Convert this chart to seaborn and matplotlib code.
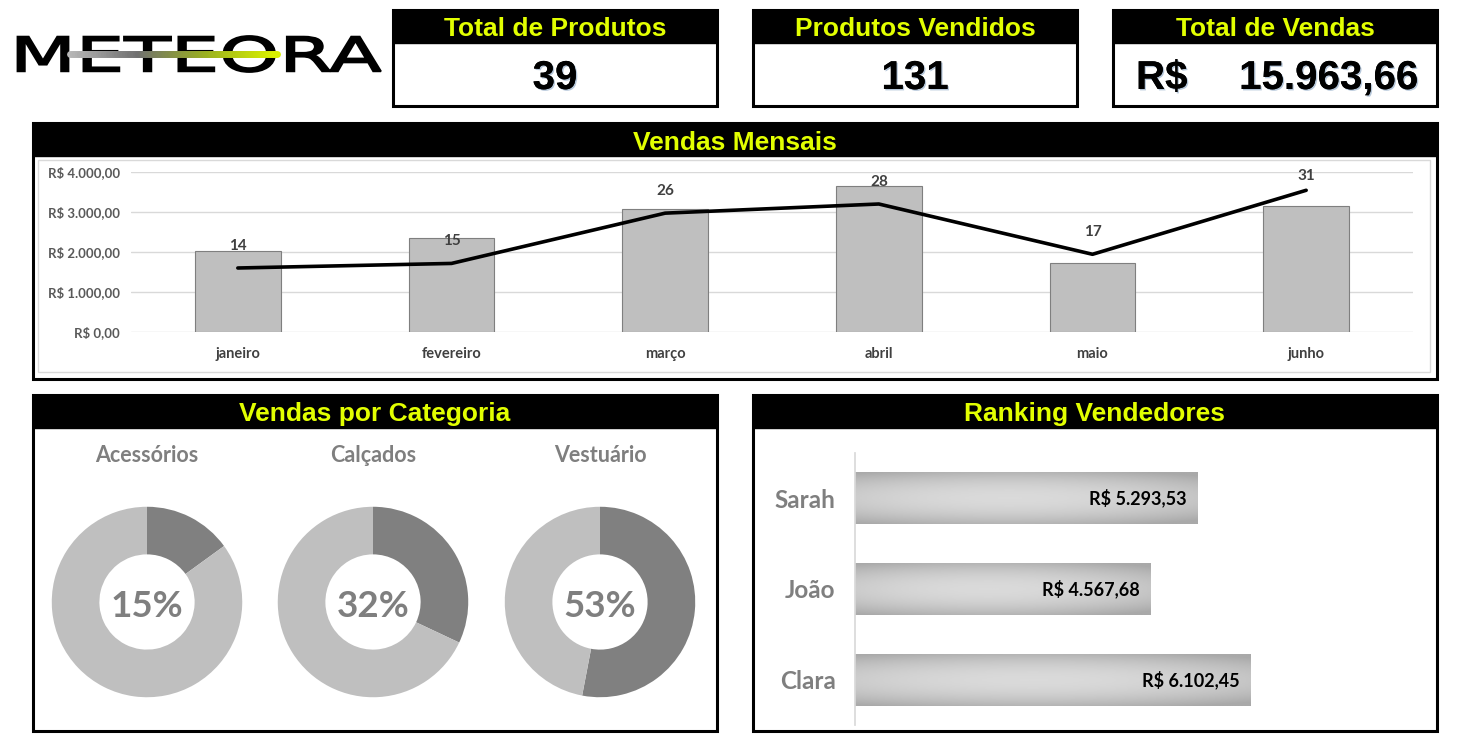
import numpy as np
import seaborn as sns
import matplotlib.pyplot as plt
from matplotlib.patches import Rectangle, PathPatch
from matplotlib.path import Path
from matplotlib.textpath import TextPath
from matplotlib.font_manager import FontProperties
from matplotlib.collections import LineCollection
from matplotlib.colors import LinearSegmentedColormap
import matplotlib.patheffects as pe

## Dados do painel

meses = ["janeiro", "fevereiro", "março", "abril", "maio", "junho"]
vendas_mes = [2025, 2350, 3075, 3650, 1725, 3140]
qtd_mes = [14, 15, 26, 28, 17, 31]

categorias = ["Acessórios", "Calçados", "Vestuário"]
pct_categoria = [15, 32, 53]

vendedores = ["Sarah", "João", "Clara"]
vendas_vendedor = [5293.53, 4567.68, 6102.45]

kpi_titulos = ["Total de Produtos", "Produtos Vendidos", "Total de Vendas"]
kpi_valores = ["39", "131", "15.963,66"]

AMARELO = "#E2FF00"
CINZA_TXT = "#7f7f7f"
W, H = 1457, 751


def brl(v):
    s = f"{v:,.2f}".replace(",", "X").replace(".", ",").replace("X", ".")
    return "R$ " + s


sns.set_theme(style="white")
plt.rcParams["font.family"] = ["Lato", "DejaVu Sans"]

fig = plt.figure(figsize=(W / 100, H / 100), dpi=100)
fig.patch.set_facecolor("white")

# eixo de fundo em pixels para molduras e textos
bg = fig.add_axes([0, 0, 1, 1])
bg.set_xlim(0, W)
bg.set_ylim(H, 0)
bg.axis("off")


def px_axes(x, y, w, h):
    a = fig.add_axes([x / W, 1 - (y + h) / H, w / W, h / H])
    a.set_facecolor("none")
    return a


def painel(x, y, w, h, titulo, hh=33):
    bg.add_patch(Rectangle((x, y), w, hh, color="black"))
    bg.add_patch(Rectangle((x, y), w, h, fill=False, ec="black", lw=2.2))
    bg.text(x + w / 2, y + hh / 2 + 3, titulo, ha="center", va="center",
            color=AMARELO, fontsize=19, fontweight="bold", family="Liberation Sans")


## Logo
fp = FontProperties(family="DejaVu Sans", weight="normal")
tp = TextPath((0, 0), "METEORA", prop=fp)
v = tp.vertices.copy()
x0, y0 = v.min(axis=0)
x1, y1 = v.max(axis=0)
v[:, 0] = 10 + (v[:, 0] - x0) / (x1 - x0) * 371
v[:, 1] = 72 - (v[:, 1] - y0) / (y1 - y0) * 36
bg.add_patch(PathPatch(Path(v, tp.codes), color="black", lw=1.3))
xs = np.linspace(70, 277, 80)
segs = [[(xs[i], 54), (xs[i + 1], 54)] for i in range(len(xs) - 1)]
cmap_logo = LinearSegmentedColormap.from_list("logo", ["#b8b8b8", "#707070", "#9ab020", "#d8f000"])
lc = LineCollection(segs, colors=cmap_logo(np.linspace(0, 1, len(segs))), linewidths=5, capstyle="round")
bg.add_collection(lc)

## KPIs
sombra = [pe.withSimplePatchShadow(offset=(1, -1), shadow_rgbFace="#6d8fb5", alpha=0.5), pe.Normal()]
kpi_x = [393, 753, 1113]
for xk, t in zip(kpi_x, kpi_titulos):
    painel(xk, 10, 324, 96, t)
estilo_kpi = dict(va="center", fontsize=29, fontweight="bold", family="Liberation Sans",
                  color="black", path_effects=sombra)
bg.text(555, 78, kpi_valores[0], ha="center", **estilo_kpi)
bg.text(915, 78, kpi_valores[1], ha="center", **estilo_kpi)
bg.text(1136, 78, "R$", ha="left", **estilo_kpi)
bg.text(1418, 78, kpi_valores[2], ha="right", **estilo_kpi)

## Vendas mensais
painel(33, 123, 1404, 256, "Vendas Mensais")
bg.add_patch(Rectangle((38, 160), 1392, 212, fill=False, ec="#d9d9d9", lw=1))

ax = px_axes(131, 172, 1282, 160)
sns.barplot(x=meses, y=vendas_mes, color="#bfbfbf", edgecolor="#7f7f7f", linewidth=0.8,
            width=0.4, saturation=1, ax=ax, zorder=2)
ax.set_ylim(0, 4000)
ax.set_yticks(range(0, 4001, 1000))
ax.set_yticklabels([brl(t) for t in range(0, 4001, 1000)])
ax.yaxis.grid(True, color="#d9d9d9", lw=1)
ax.set_axisbelow(True)
for s in ax.spines.values():
    s.set_visible(False)
ax.set_xlabel("")
ax.set_ylabel("")
ax.tick_params(axis="y", length=0, pad=8, labelsize=9.5, labelcolor="#595959")
ax.tick_params(axis="x", length=0, pad=11, labelsize=10.5, labelcolor="#404040")
for lab in ax.get_xticklabels() + ax.get_yticklabels():
    lab.set_fontweight("bold")

ax2 = ax.twinx()
sns.lineplot(x=np.arange(len(meses)), y=qtd_mes, color="black", lw=2.6, ax=ax2)
ax2.set_ylim(0, 35)
ax2.set_axis_off()
for i, q in enumerate(qtd_mes):
    # rótulo acima do ponto, sem sair da área do gráfico
    off = min(16, ((35 - q) / 35 * 160 - 4) * 0.72)
    ax2.annotate(str(q), (i, q), xytext=(0, off), textcoords="offset points", ha="center",
                 va="center", fontsize=11, fontweight="bold", color="#404040")
ax.set_xlim(-0.5, len(meses) - 0.5)

## Vendas por categoria
painel(33, 395, 684, 336, "Vendas por Categoria")
centros = [147, 373, 600]
for cx, cat, p in zip(centros, categorias, pct_categoria):
    a = px_axes(cx - 100, 602 - 100, 200, 200)
    a.pie([p, 100 - p], colors=["#808080", "#bfbfbf"], startangle=90, counterclock=False,
          wedgeprops=dict(width=0.5, edgecolor="none"))
    a.set_xlim(-1.05, 1.05)
    a.set_ylim(-1.05, 1.05)
    a.set_aspect("equal")
    a.text(0, -0.05, f"{p}%", ha="center", va="center", fontsize=26.5, fontweight="bold", color=CINZA_TXT)
    bg.text(cx, 456, cat, ha="center", va="center", fontsize=15.5, fontweight="bold", color=CINZA_TXT)

## Ranking vendedores
painel(753, 395, 684, 336, "Ranking Vendedores")
axr = px_axes(855, 453, 565, 272)
sns.barplot(x=vendas_vendedor, y=vendedores, orient="h", color="#c8c8c8", width=0.57,
            saturation=1, ax=axr)

# degrade nas barras
cmap_bar = LinearSegmentedColormap.from_list("barra", ["#a9a9a9", "#dadada"])
gx = np.linspace(-1, 1, 200)
gy = np.linspace(-1, 1, 60)
XX, YY = np.meshgrid(gx, gy)
grad = 1 - np.clip(0.75 * YY ** 2 + 0.35 * (XX + 0.1) ** 2, 0, 1)
for patch in axr.patches:
    bb = patch.get_bbox()
    axr.imshow(grad, extent=(bb.x0, bb.x1, bb.y1, bb.y0), cmap=cmap_bar, vmin=0, vmax=1,
               aspect="auto", zorder=patch.get_zorder() + 0.1)

axr.set_xlim(0, 8720)
axr.set_ylim(2.5, -0.5)
axr.set_xlabel("")
axr.set_ylabel("")
axr.xaxis.set_visible(False)
for nome, s in axr.spines.items():
    s.set_visible(nome == "left")
axr.spines["left"].set_color("#d9d9d9")
axr.tick_params(axis="y", length=0, pad=14, labelsize=17.5, labelcolor=CINZA_TXT)
for lab in axr.get_yticklabels():
    lab.set_fontweight("bold")
for i, val in enumerate(vendas_vendedor):
    axr.annotate(brl(val), (val, i), xytext=(-8, 0), textcoords="offset points", ha="right",
                 va="center", fontsize=13, fontweight="bold", color="black", zorder=5)

fig.savefig("out.png", dpi=100)
